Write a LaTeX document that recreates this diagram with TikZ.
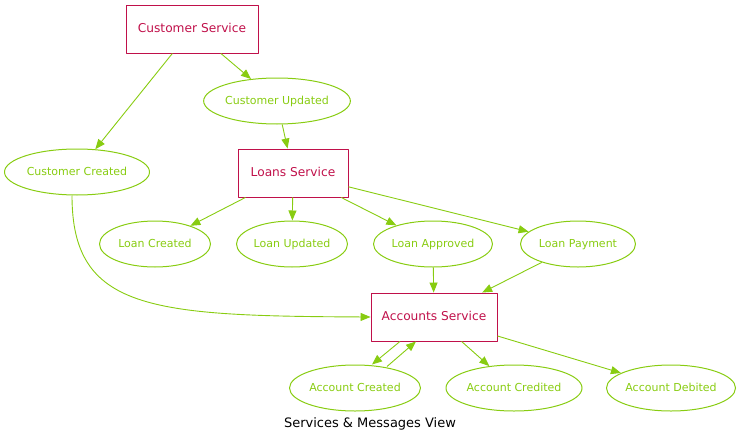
\documentclass[tikz,border=0pt]{standalone}
\usepackage{fontspec}
\setmainfont{DejaVu Sans}
\usetikzlibrary{arrows.meta}
\definecolor{svcred}{HTML}{C0104A}
\definecolor{msggreen}{HTML}{88CC11}
\tikzset{
  service/.style={draw=svcred, text=svcred, line width=0.9pt, minimum height=48pt, inner sep=0pt, text height=1.6ex, text depth=0.4ex, font=\fontsize{12.2}{14}\selectfont},
  message/.style={ellipse, draw=msggreen, text=msggreen, line width=1pt, minimum height=46pt, inner sep=0pt, text height=1.6ex, text depth=0.4ex, font=\fontsize{11}{13}\selectfont},
  flow/.style={draw=msggreen, line width=0.9pt, ->}
}
\usetikzlibrary{shapes.geometric}
\begin{document}
\begin{tikzpicture}[x=1pt, y=-1pt, >={Triangle[length=10pt,width=8pt]}, line join=round]
	\useasboundingbox (0,0) rectangle (741,444);
	% services
	\node[service, minimum width=132pt] (csvc) at (192,29) {Customer Service};
	\node[service, minimum width=110pt] (lsvc) at (293,173) {Loans Service};
	\node[service, minimum width=126pt] (asvc) at (434,317) {Accounts Service};
	% messages
	\node[message, minimum width=146pt] (cupd) at (277,101) {Customer Updated};
	\node[message, minimum width=145pt] (ccre) at (77,172) {Customer Created};
	\node[message, minimum width=111pt] (lcre) at (155,244) {Loan Created};
	\node[message, minimum width=111pt] (lupd) at (292,244) {Loan Updated};
	\node[message, minimum width=119pt] (lapp) at (433,244) {Loan Approved};
	\node[message, minimum width=115pt] (lpay) at (578,244) {Loan Payment};
	\node[message, minimum width=131pt] (acre) at (355,388) {Account Created};
	\node[message, minimum width=136pt] (acrd) at (514,388) {Account Credited};
	\node[message, minimum width=129pt] (adeb) at (671,388) {Account Debited};
	\node[font=\fontsize{13}{15}\selectfont] (title) at (370,424) {Services \& Messages View};
	% flows
	\draw[flow] (csvc) -- (ccre);
	\draw[flow] (csvc) -- (cupd);
	\draw[flow] (cupd) -- (lsvc);
	\draw[flow] (lsvc) -- (lcre);
	\draw[flow] (lsvc) -- (lupd);
	\draw[flow] (lsvc) -- (lapp);
	\draw[flow] (lsvc) -- (lpay);
	\draw[flow] (lapp) -- (asvc);
	\draw[flow] (lpay) -- (asvc);
	\draw[flow] ([xshift=-5pt]ccre.south) .. controls (72,310) and (150,316) .. (asvc.west);
	\draw[flow] ([xshift=-34pt]asvc.south) -- ([xshift=17pt]acre.north);
	\draw[flow] ([xshift=32pt,yshift=-2pt]acre.north) -- ([xshift=-18pt]asvc.south);
	\draw[flow] (asvc) -- (acrd);
	\draw[flow] (asvc) -- (adeb);
\end{tikzpicture}
\end{document}
